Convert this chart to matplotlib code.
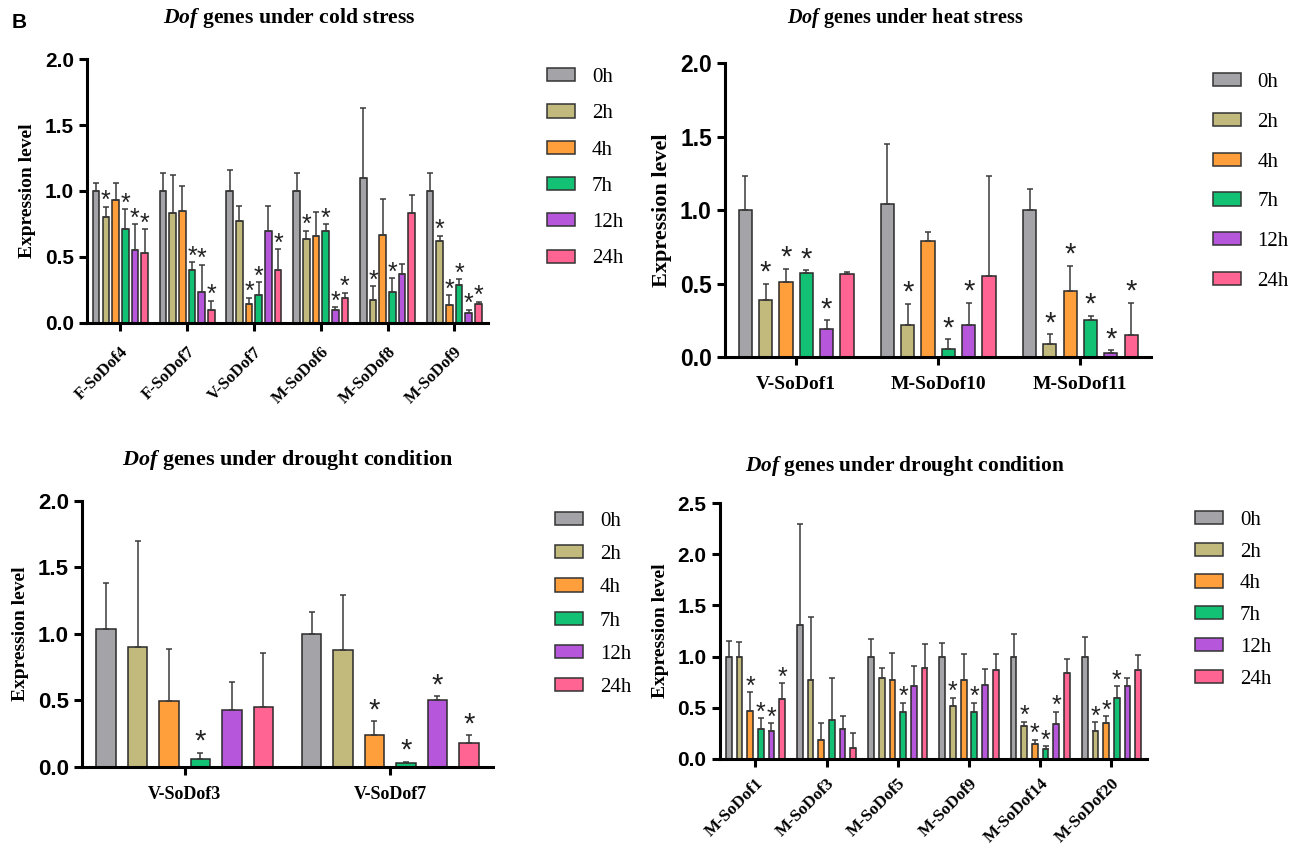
import numpy as np
import matplotlib
matplotlib.use("Agg")
import matplotlib.pyplot as plt
from matplotlib.patches import Patch

plt.rcParams['mathtext.fontset'] = 'custom'
plt.rcParams['mathtext.it'] = 'Liberation Serif:italic:bold'
plt.rcParams['mathtext.rm'] = 'Liberation Serif:bold'
plt.rcParams['mathtext.bf'] = 'Liberation Serif:bold'

times = ['0h', '2h', '4h', '7h', '12h', '24h']
colors = ['#a3a3a8', '#c2b97c', '#ff9f3c', '#12c173', '#b556db', '#ff6492']

# cold stress (rows = genes, cols = time points)
cold_genes = ['F-SoDof4', 'F-SoDof7', 'V-SoDof7', 'M-SoDof6', 'M-SoDof8', 'M-SoDof9']
cold_mean = [[1.00, 0.80, 0.93, 0.71, 0.55, 0.53],
             [1.00, 0.83, 0.85, 0.40, 0.235, 0.10],
             [1.00, 0.77, 0.145, 0.21, 0.70, 0.40],
             [1.00, 0.64, 0.66, 0.70, 0.095, 0.19],
             [1.10, 0.175, 0.67, 0.235, 0.37, 0.83],
             [1.00, 0.62, 0.136, 0.29, 0.073, 0.144]]
cold_err = [[0.06, 0.08, 0.13, 0.15, 0.20, 0.18],
            [0.14, 0.29, 0.19, 0.06, 0.205, 0.07],
            [0.16, 0.12, 0.045, 0.10, 0.19, 0.16],
            [0.14, 0.06, 0.18, 0.05, 0.025, 0.04],
            [0.53, 0.105, 0.27, 0.105, 0.08, 0.14],
            [0.14, 0.04, 0.074, 0.04, 0.027, 0.016]]
cold_sig = [[0, 1, 0, 1, 1, 1],
            [0, 0, 0, 1, 1, 1],
            [0, 0, 1, 1, 0, 1],
            [0, 1, 0, 1, 1, 1],
            [0, 1, 0, 1, 0, 0],
            [0, 1, 1, 1, 1, 1]]

# heat stress
heat_genes = ['V-SoDof1', 'M-SoDof10', 'M-SoDof11']
heat_mean = [[1.00, 0.39, 0.51, 0.57, 0.19, 0.565],
             [1.04, 0.22, 0.79, 0.057, 0.22, 0.55],
             [1.00, 0.09, 0.45, 0.25, 0.025, 0.15]]
heat_err = [[0.23, 0.11, 0.09, 0.02, 0.06, 0.015],
            [0.41, 0.14, 0.06, 0.063, 0.15, 0.68],
            [0.14, 0.065, 0.17, 0.03, 0.02, 0.22]]
heat_sig = [[0, 1, 1, 1, 1, 0],
            [0, 1, 0, 1, 1, 0],
            [0, 1, 1, 1, 1, 1]]

# drought, V genes
dv_genes = ['V-SoDof3', 'V-SoDof7']
dv_mean = [[1.036, 0.90, 0.494, 0.063, 0.43, 0.454],
           [1.00, 0.876, 0.238, 0.03, 0.50, 0.178]]
dv_err = [[0.35, 0.80, 0.39, 0.042, 0.21, 0.40],
          [0.164, 0.414, 0.106, 0.008, 0.032, 0.06]]
dv_sig = [[0, 0, 0, 1, 0, 0],
          [0, 0, 1, 1, 1, 1]]

# drought, M genes
dm_genes = ['M-SoDof1', 'M-SoDof3', 'M-SoDof5', 'M-SoDof9', 'M-SoDof14', 'M-SoDof20']
dm_mean = [[1.00, 1.00, 0.47, 0.29, 0.27, 0.59],
           [1.31, 0.77, 0.19, 0.38, 0.29, 0.11],
           [1.00, 0.79, 0.77, 0.46, 0.71, 0.89],
           [0.995, 0.52, 0.775, 0.46, 0.72, 0.87],
           [1.00, 0.325, 0.147, 0.095, 0.34, 0.84],
           [1.00, 0.27, 0.35, 0.60, 0.71, 0.87]]
dm_err = [[0.15, 0.14, 0.18, 0.11, 0.08, 0.15],
          [0.99, 0.615, 0.16, 0.415, 0.13, 0.14],
          [0.17, 0.10, 0.27, 0.09, 0.20, 0.23],
          [0.135, 0.08, 0.255, 0.09, 0.155, 0.16],
          [0.22, 0.04, 0.043, 0.032, 0.12, 0.135],
          [0.19, 0.09, 0.07, 0.11, 0.08, 0.145]]
dm_sig = [[0, 0, 1, 1, 1, 1],
          [0, 0, 0, 0, 0, 0],
          [0, 0, 0, 1, 0, 0],
          [0, 1, 0, 1, 0, 0],
          [0, 1, 1, 1, 1, 0],
          [0, 1, 1, 1, 0, 0]]

SERIF = 'Liberation Serif'
SANS = 'Liberation Sans'
W, H = 1304, 847


def panel(rect, genes, mean, err, sig, title, title_xy, title_fs, ymax, rot, tick_fs,
          lab_fs, cat_fs, star_fs, star_off, slot, width, leg_xy, leg_space, xpad):
    ax = fig.add_axes(rect)
    mean = np.array(mean).T
    err = np.array(err).T
    sig = np.array(sig).T
    x = np.arange(len(genes))
    for i, t in enumerate(times):
        xs = x + (i - 2.5) * slot
        ax.bar(xs, mean[i], width, color=colors[i], edgecolor='#2a2a2a', linewidth=1.1,
               yerr=[np.zeros_like(err[i]), err[i]], ecolor='#3a3a3a',
               error_kw=dict(elinewidth=1.1, capsize=2, capthick=1.1), label=t, zorder=2)
        for j in range(len(genes)):
            if sig[i][j]:
                ax.annotate('*', (xs[j], mean[i][j] + err[i][j]), xytext=(0, star_off),
                            textcoords='offset points', ha='center', va='center',
                            fontsize=star_fs, fontfamily=SANS, color='#222222')
    ax.set_xlim(-0.5, len(genes) - 0.5)
    ax.set_ylim(0, ymax)
    yt = np.arange(0, ymax + 0.01, 0.5)
    ax.set_yticks(yt)
    ax.set_yticklabels(['%.1f' % v for v in yt], fontfamily=SANS, fontweight='bold',
                       fontsize=tick_fs)
    ax.set_xticks(x)
    if rot:
        ax.set_xticklabels(genes, rotation=45, ha='right', rotation_mode='anchor',
                           fontfamily=SERIF, fontweight='bold', fontsize=cat_fs)
    else:
        ax.set_xticklabels(genes, fontfamily=SERIF, fontweight='bold', fontsize=cat_fs)
    ax.tick_params(axis='x', pad=xpad)
    ax.set_ylabel('Expression level', fontfamily=SERIF, fontweight='bold', fontsize=lab_fs,
                  labelpad=6)
    for s in ['top', 'right']:
        ax.spines[s].set_visible(False)
    for s in ['left', 'bottom']:
        ax.spines[s].set_linewidth(2.2)
    ax.tick_params(axis='both', width=2.2, length=6, color='black')
    fig.text(title_xy[0] / W, 1 - title_xy[1] / H, title, ha='center', va='center',
             fontfamily=SERIF, fontweight='bold', fontsize=title_fs)
    handles = [Patch(facecolor=c, edgecolor='#333333', linewidth=1.1) for c in colors]
    fig.legend(handles, times, loc='upper left', bbox_to_anchor=leg_xy, frameon=False,
               prop={'family': SERIF, 'size': 15}, handlelength=1.35, handleheight=0.6,
               handletextpad=0.8, labelspacing=leg_space, borderpad=0, borderaxespad=0)
    return ax


fig = plt.figure(figsize=(13.04, 8.47), dpi=100)

panel([0.0667, 0.6187, 0.3073, 0.3116], cold_genes, cold_mean, cold_err, cold_sig,
      r'$\mathit{Dof}$ genes under cold stress', (289, 18), 15.6, 2.0, True, 15, 14, 12,
      18, 4, 0.145, 0.10, (0.4195, 0.9197), 0.83, 9)
panel([0.556, 0.5785, 0.327, 0.3471], heat_genes, heat_mean, heat_err, heat_sig,
      r'$\mathit{Dof}$ genes under heat stress', (905, 18), 14.5, 2.0, False, 16.5, 16, 14,
      21, 8, 0.143, 0.093, (0.930, 0.914), 1.0, 8)
panel([0.0629, 0.0945, 0.3151, 0.3140], dv_genes, dv_mean, dv_err, dv_sig,
      r'$\mathit{Dof}$ genes under drought condition', (288, 460), 15.9, 2.0, False, 16, 14,
      13, 21, 8, 0.153, 0.095, (0.4256, 0.3955), 0.68, 8)
panel([0.552, 0.1039, 0.3276, 0.3022], dm_genes, dm_mean, dm_err, dm_sig,
      r'$\mathit{Dof}$ genes under drought condition', (905, 466), 15.4, 2.5, True, 15, 14,
      12.3, 18, 4, 0.15, 0.08, (0.9164, 0.3967), 0.61, 6)

fig.text(0.009, 0.974, 'B', fontfamily=SANS, fontweight='bold', fontsize=15, va='center')

fig.savefig('out.png', dpi=100)
